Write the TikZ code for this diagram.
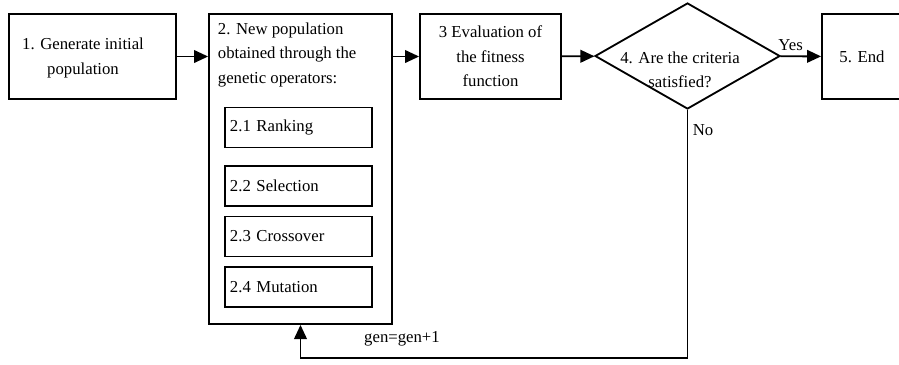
\documentclass[tikz,border=0pt]{standalone}
\usepackage{fontspec}
\setmainfont{Liberation Serif}
\usetikzlibrary{shapes.geometric,arrows.meta}
\begin{document}
\begin{tikzpicture}[x=0.025cm, y=-0.025cm, line width=1.3pt, >={Triangle[length=10pt,width=9pt]},
	font=\fontsize{11.9}{17.3}\selectfont,
	box/.style={draw, rectangle, inner sep=0pt, align=center, minimum height=2.125cm},
	op/.style={draw, rectangle, minimum width=3.675cm, minimum height=1cm, text width=3.425cm, inner xsep=0.125cm, inner ysep=0pt, align=left},
	crit/.style={draw, diamond, minimum width=4.625cm, minimum height=2.65cm, inner sep=0pt}]
	%\draw[help lines] (0,0) grid[step=50] (899,364);
	\clip (0,0) rectangle (899,364);
	\node[box, minimum width=4.175cm] (gen) at (92.5,56.5) {};
	\node[align=center, inner sep=0pt] (gentxt) at (83,58) {1. Generate initial\\population};
	\node[draw, minimum width=4.575cm, minimum height=7.75cm, inner sep=0pt] (newpop) at (300.5,169) {};
	\node[anchor=north west, align=left, inner sep=0pt] (newtxt) at (217,22) {2. New population\\obtained through the\\genetic operators:};
	\foreach \y/\t [count=\i] in {127.5/Ranking, 186/Selection, 236.5/Crossover, 287/Mutation}
		\node[op] (op\i) at (298.5,\y) {2.\i\ \t};
	\node[box, minimum width=3.525cm] (fit) at (490.5,56.5) {3 Evaluation of\\the fitness\\function};
	\node[crit] (crit) at (687.5,56) {};
	\node[align=center, inner sep=0pt] (crittxt) at (680,70) {4. Are the criteria\\satisfied?};
	\node[box, minimum width=2cm] (end) at (862,56.5) {5. End};
	\coordinate (back) at (500,358);
	\draw[->] (gen) -- (gen -| newpop.west);
	\draw[->] (newpop.east |- fit) -- (fit);
	\draw[->] (fit) -- (crit);
	\draw[->] (crit) -- node[above, pos=0.25]{Yes} (end);
	\draw[->] (crit.south) |- (back) -| (newpop.south);
	\node (no) at (703,130) {No};
	\node (inc) at (402,339) {gen=gen+1};
\end{tikzpicture}
\end{document}
